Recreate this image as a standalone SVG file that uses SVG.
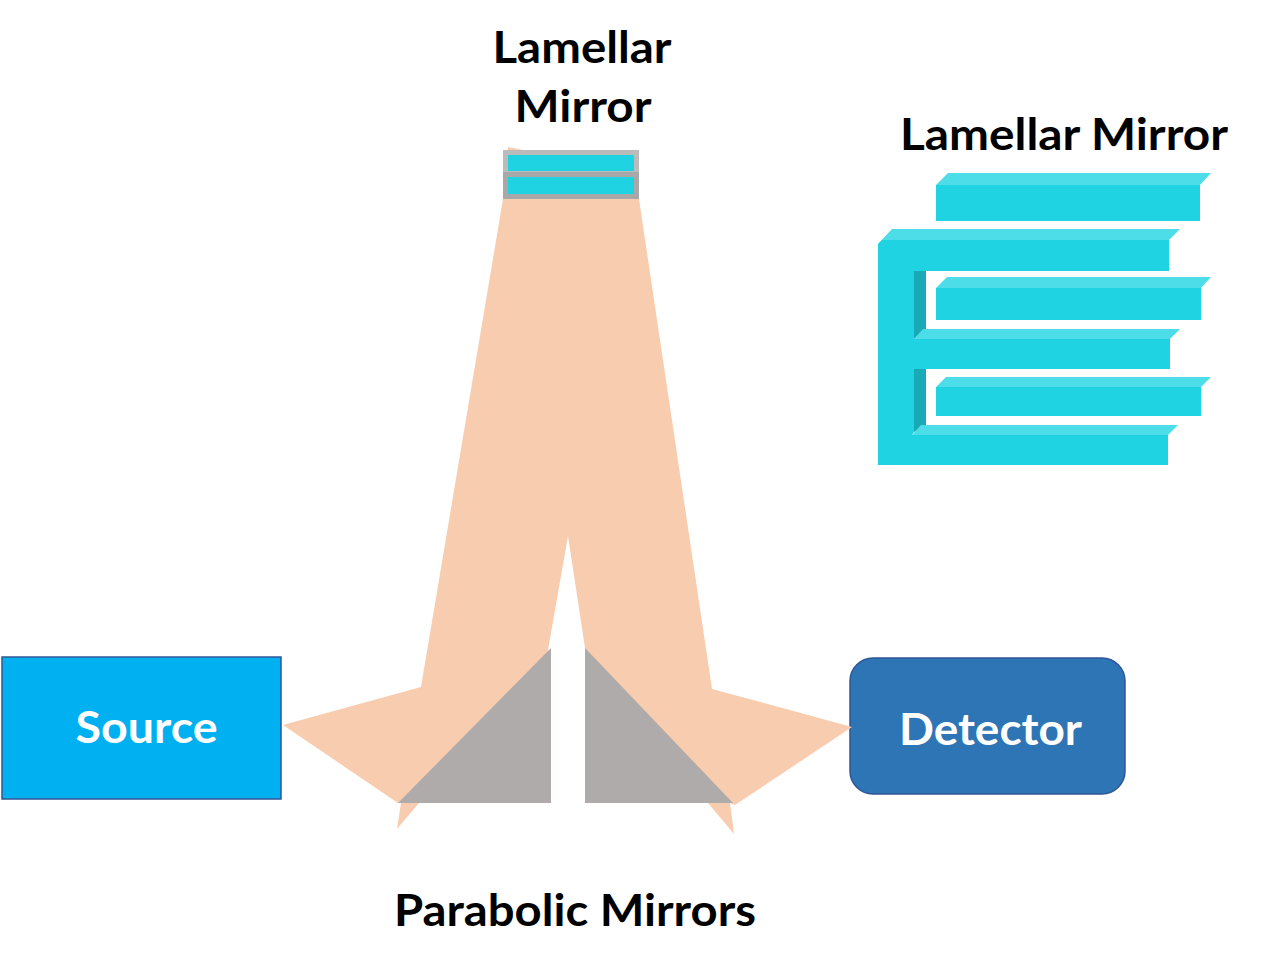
<svg xmlns="http://www.w3.org/2000/svg" width="1287" height="970" viewBox="0 0 1287 970">
<style>
.t{font-family:"Lato","Open Sans","Liberation Sans",sans-serif;font-weight:700;font-size:44px;text-anchor:middle;fill:#000}
.w{fill:#fff}
.f{fill:#1FD3E3}.u{fill:#4DDDE9}.d{fill:#1AA9B6}
</style>
<rect width="1287" height="970" fill="#fff"/>
<g id="source"><rect x="2" y="657" width="279" height="142" fill="#00B0F0" stroke="#2F5597" stroke-width="1.5"/><text class="t w" x="146.500" y="743" textLength="142" lengthAdjust="spacingAndGlyphs">Source</text></g>
<g id="detector"><rect x="850" y="658" width="275" height="136" rx="23" fill="#2E75B6" stroke="#2F5597" stroke-width="1.5"/><text class="t w" x="990.500" y="745" textLength="183" lengthAdjust="spacingAndGlyphs">Detector</text></g>
<g id="beam"><polygon fill="#F8CCAE" points="283,725 421,687 503,199 508,147 523,150 639,199 712,689 852,727 735,805 730,803 734,834 708,803 419,803 397,829 401,803 398,803"/>
<polygon fill="#fff" points="568,536 548,650 551,810 585,810 585,648"/></g>
<g id="parabolic-mirrors"><polygon fill="#AFABAB" points="398,803 551,648 551,803"/><polygon fill="#AFABAB" points="585,648 585,803 733,803"/><text class="t" x="575" y="926" textLength="362" lengthAdjust="spacingAndGlyphs">Parabolic Mirrors</text></g>
<g id="lamellar-mirror-small"><rect x="503" y="150" width="136" height="22" fill="#BBBBBB"/><rect x="503" y="172" width="136" height="27" fill="#A8A8A8"/><rect x="508" y="155" width="126" height="16" class="f"/><rect x="508" y="177" width="126" height="17" class="f"/>
<text class="t" x="582" y="63" textLength="179" lengthAdjust="spacingAndGlyphs">Lamellar</text><text class="t" x="583" y="122" textLength="137" lengthAdjust="spacingAndGlyphs">Mirror</text></g>
<g id="lamellar-mirror-detail">
<text class="t" x="1064" y="150" textLength="328" lengthAdjust="spacingAndGlyphs">Lamellar Mirror</text>
<polygon class="d" points="914,271 926,271 926,329 914,339"/><polygon class="d" points="914,369 926,369 926,425 914,432"/>
<polygon class="u" points="878,244 892,229 1180,229 1169,240 878,244"/><polygon class="u" points="914,339 923,329 1180,329 1170,339"/><polygon class="u" points="912,435 921,425 1178,425 1168,435"/>
<polygon class="f" points="878,244 882,240 1169,240 1169,271 914,271 914,339 1170,339 1170,369 914,369 914,432 912,435 1168,435 1168,465 878,465"/>
<polygon class="u" points="936,185 948,173 1211,173 1200,185"/><rect class="f" x="936" y="185" width="264" height="36"/>
<polygon class="u" points="936,288 947,277 1211,277 1201,288"/><rect class="f" x="936" y="288" width="265" height="32"/>
<polygon class="u" points="936,387 946,377 1211,377 1201,387"/><rect class="f" x="936" y="387" width="265" height="29"/>
</g>
</svg>
